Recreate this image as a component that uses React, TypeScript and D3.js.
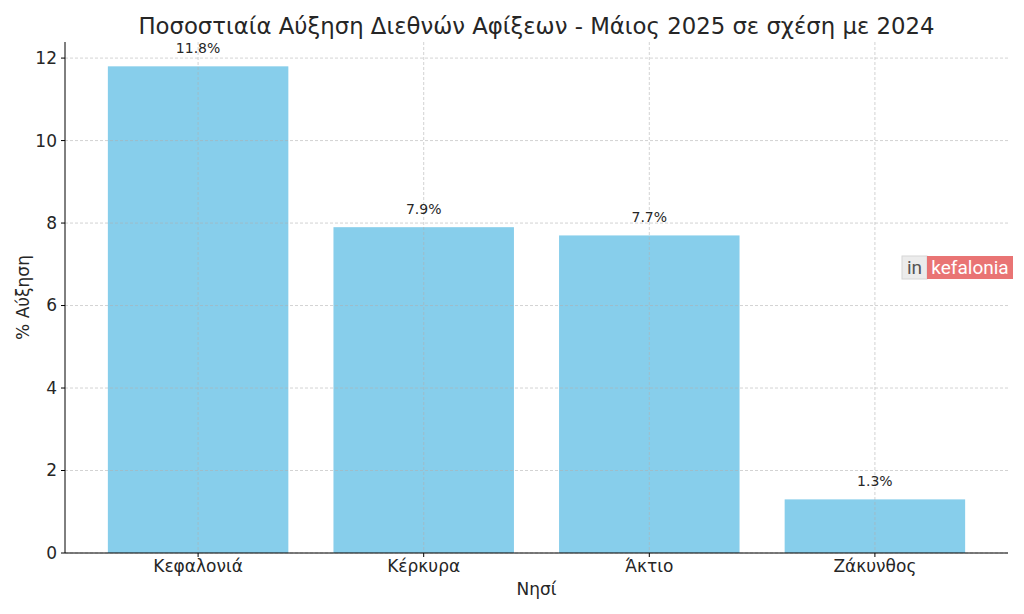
import React from "react";
import * as d3 from "d3";

const categories = ["Κεφαλονιά", "Κέρκυρα", "Άκτιο", "Ζάκυνθος"];
const values = [11.8, 7.9, 7.7, 1.3];
const yTicks = [0, 2, 4, 6, 8, 10, 12];
const title = "Ποσοστιαία Αύξηση Διεθνών Αφίξεων - Μάιος 2025 σε σχέση με 2024";

const W = 1024, H = 614;
const left = 65, right = 1008, top = 42, bottom = 553;
const font = "DejaVu Sans, sans-serif";

export default function App() {
  const x = d3.scaleLinear().domain([-0.59, categories.length - 1 + 0.59]).range([left, right]);
  const y = d3.scaleLinear().domain([0, 12.39]).range([bottom, top]);
  const bw = x(0.8) - x(0);
  return (
    <svg width={W} height={H} style={{ position: "absolute", left: 0, top: 0, background: "#fff" }} fontFamily={font}>
      <rect width={W} height={H} fill="#fff" />
      <text x={(left + right) / 2} y={34} textAnchor="middle" fontSize={22.8} fill="#262626">{title}</text>
      {categories.map((c, i) => (
        <rect key={c} x={x(i) - bw / 2} y={y(values[i])} width={bw} height={bottom - y(values[i])} fill="#87CEEB" />
      ))}
      {yTicks.map(t => (
        <line key={"gy" + t} x1={left} x2={right} y1={y(t)} y2={y(t)} stroke="#b0b0b0" strokeOpacity={0.7} strokeWidth={0.8} strokeDasharray="3,2" />
      ))}
      {categories.map((c, i) => (
        <line key={"gx" + c} x1={x(i)} x2={x(i)} y1={top} y2={bottom} stroke="#b0b0b0" strokeOpacity={0.7} strokeWidth={0.8} strokeDasharray="3,2" />
      ))}
      {categories.map((c, i) => (
        <text key={"v" + c} x={x(i)} y={y(values[i] + 0.3) - 1} textAnchor="middle" fontSize={14} fill="#262626">{values[i].toFixed(1)}%</text>
      ))}
      <line x1={left} x2={left} y1={top} y2={bottom} stroke="#000" strokeWidth={1} />
      <line x1={left} x2={right} y1={bottom} y2={bottom} stroke="#000" strokeWidth={1} />
      {yTicks.map(t => (
        <g key={"ty" + t}>
          <line x1={left - 4} x2={left} y1={y(t)} y2={y(t)} stroke="#000" />
          <text x={left - 8} y={y(t)} dy="0.35em" textAnchor="end" fontSize={17} fill="#262626">{t}</text>
        </g>
      ))}
      {categories.map((c, i) => (
        <g key={"tx" + c}>
          <line x1={x(i)} x2={x(i)} y1={bottom} y2={bottom + 4} stroke="#000" />
          <text x={x(i)} y={bottom + 19} textAnchor="middle" fontSize={17} fill="#262626">{c}</text>
        </g>
      ))}
      <text x={(left + right) / 2} y={595} textAnchor="middle" fontSize={17} fill="#262626">Νησί</text>
      <text transform={`translate(29,${(top + bottom) / 2}) rotate(-90)`} textAnchor="middle" fontSize={17} fill="#262626">% Αύξηση</text>
      <g>
        <rect x={902} y={256} width={25} height={23} fill="#ececec" stroke="#d6d6d6" strokeWidth={1} />
        <text x={914.5} y={274} textAnchor="middle" fontSize={19} fontFamily="Roboto, sans-serif" fill="#555">in</text>
        <rect x={927} y={256} width={86} height={23} fill="#e97474" />
        <text x={970} y={274} textAnchor="middle" fontSize={19} fontFamily="Roboto, sans-serif" fill="#fff">kefalonia</text>
      </g>
    </svg>
  );
}
